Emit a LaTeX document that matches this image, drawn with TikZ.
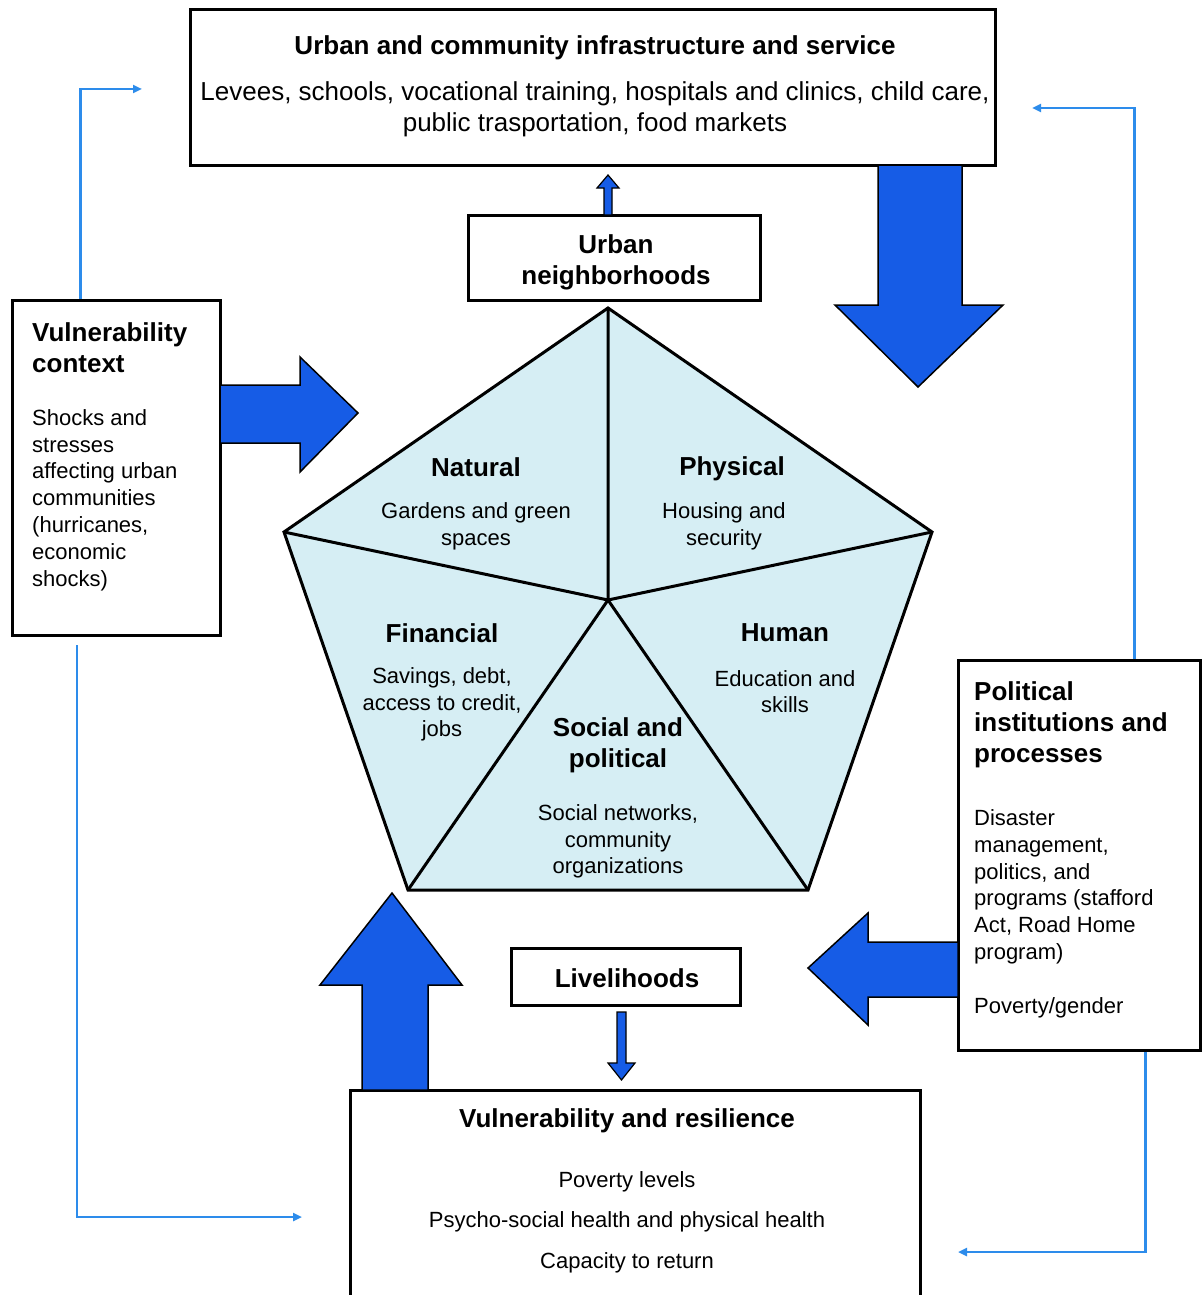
\documentclass[tikz,border=0pt]{standalone}
\usepackage{fontspec}
\setmainfont{Liberation Sans}
\usetikzlibrary{arrows.meta}
\definecolor{bigblue}{RGB}{22,92,230}
\definecolor{lineblue}{RGB}{45,140,235}
\definecolor{pentfill}{RGB}{214,238,244}
\tikzset{
  box/.style={draw=black, line width=3pt, fill=white, inner sep=0pt},
  conn/.style={draw=lineblue, line width=2.6pt, -{Triangle[length=9pt,width=8pt]}},
  bigarrow/.style={fill=bigblue, draw=black, line width=1.5pt, line join=miter},
  ttl/.style={font=\fontsize{26}{31}\selectfont\bfseries, inner sep=0pt, align=center},
  txt/.style={font=\fontsize{22}{26.5}\selectfont, inner sep=0pt, align=center},
  ltxt/.style={font=\fontsize{22}{26.8}\selectfont, inner sep=0pt, align=left, anchor=west},
}
\begin{document}
\begin{tikzpicture}[x=1pt,y=-1pt]
\useasboundingbox (0,0) rectangle (1203,1295);
\fill[white] (0,0) rectangle (1203,1295);

% boxes
\node[box, minimum width=805pt, minimum height=155pt] (top) at (592.5,87.5) {};
\node[box, minimum width=292pt, minimum height=85pt] (nbh) at (614,257.5) {};
\node[box, minimum width=208pt, minimum height=335pt] (vc) at (116,467.5) {};
\node[box, minimum width=242pt, minimum height=390pt] (pol) at (1079,855) {};
\node[box, minimum width=229pt, minimum height=57pt] (liv) at (625.5,976.5) {};
\node[box, minimum width=570pt, minimum height=212pt] (vr) at (635,1196) {};

% box texts
\node[ttl] at (595,47.5) {Urban and community infrastructure and service};
\node[txt, font=\fontsize{26}{31}\selectfont] at (595,109) {Levees, schools, vocational training, hospitals and clinics, child care,\\public trasportation, food markets};
\node[ttl] at (616,262) {Urban\\neighborhoods};
\node[ttl, align=left, anchor=west] at (32,347.5) {Vulnerability\\context};
\node[ltxt] at (32,500) {Shocks and\\stresses\\affecting urban\\communities\\(hurricanes,\\economic\\shocks)};
\node[ttl, align=left, anchor=west] at (974,724.5) {Political\\institutions and\\processes};
\node[ltxt] at (974,913.5) {Disaster\\management,\\politics, and\\programs (stafford\\Act, Road Home\\program)\\[26.8pt]Poverty/gender};
\node[ttl] at (627,978) {Livelihoods};
\node[ttl] at (627,1121) {Vulnerability and resilience};
\node[txt] at (627,1181.5) {Poverty levels};
\node[txt] at (627,1221.5) {Psycho-social health and physical health};
\node[txt] at (627,1262.5) {Capacity to return};

% pentagon
\coordinate (c) at (608,600);
\coordinate (p1) at (608,308);
\coordinate (p2) at (932,532);
\coordinate (p3) at (808,890);
\coordinate (p4) at (408,890);
\coordinate (p5) at (284,532);
\fill[pentfill] (p1)--(p2)--(p3)--(p4)--(p5)--cycle;
\draw[line width=3pt, line join=miter] (p1)--(p2)--(p3)--(p4)--(p5)--cycle;
\draw[line width=3pt] (c)--(p1) (c)--(p2) (c)--(p3) (c)--(p4) (c)--(p5);

\node[ttl] at (476,467) {Natural};
\node[txt] at (476,526.5) {Gardens and green\\spaces};
\node[ttl] at (732,468.5) {Physical};
\node[txt] at (724,526.5) {Housing and\\security};
\node[ttl] at (442,633) {Financial};
\node[txt] at (442,704.5) {Savings, debt,\\access to credit,\\jobs};
\node[ttl] at (785,633) {Human};
\node[txt] at (785,691.5) {Education and\\skills};
\node[ttl] at (618,745) {Social and\\political};
\node[txt] at (618,841.5) {Social networks,\\community\\organizations};

% big arrows
\draw[bigarrow] (878,165)--(878,305)--(835,305)--(918,387)--(1003,305)--(962,305)--(962,165)--cycle;
\draw[bigarrow] (220,385)--(300,385)--(300,357)--(358,413)--(300,472)--(300,443)--(220,443)--cycle;
\draw[bigarrow] (958,942)--(868,942)--(868,913)--(808,968)--(868,1025)--(868,997)--(958,997)--cycle;
\draw[bigarrow] (362,1090)--(362,985)--(320,985)--(392,893)--(462,985)--(428,985)--(428,1090)--cycle;
% small arrows
\draw[bigarrow, line width=1.2pt] (604,215)--(604,188)--(597,188)--(608,175)--(619,188)--(612,188)--(612,215)--cycle;
\draw[bigarrow, line width=1.2pt] (617,1012)--(617,1063)--(608,1063)--(621.5,1080)--(635,1063)--(626,1063)--(626,1012)--cycle;

% blue connectors
\coordinate (e1) at (142,89);
\coordinate (e2) at (1032,108);
\coordinate (s3) at (77,645);
\coordinate (e3) at (302,1217);
\coordinate (e4) at (958,1252);
\draw[conn] ([xshift=70pt]vc.north west) |- (e1);
\draw[conn] ([xshift=178pt]pol.north west) |- (e2);
\draw[conn] (s3) |- (e3);
\draw[conn] ([xshift=189pt]pol.south west) |- (e4);
\end{tikzpicture}
\end{document}
